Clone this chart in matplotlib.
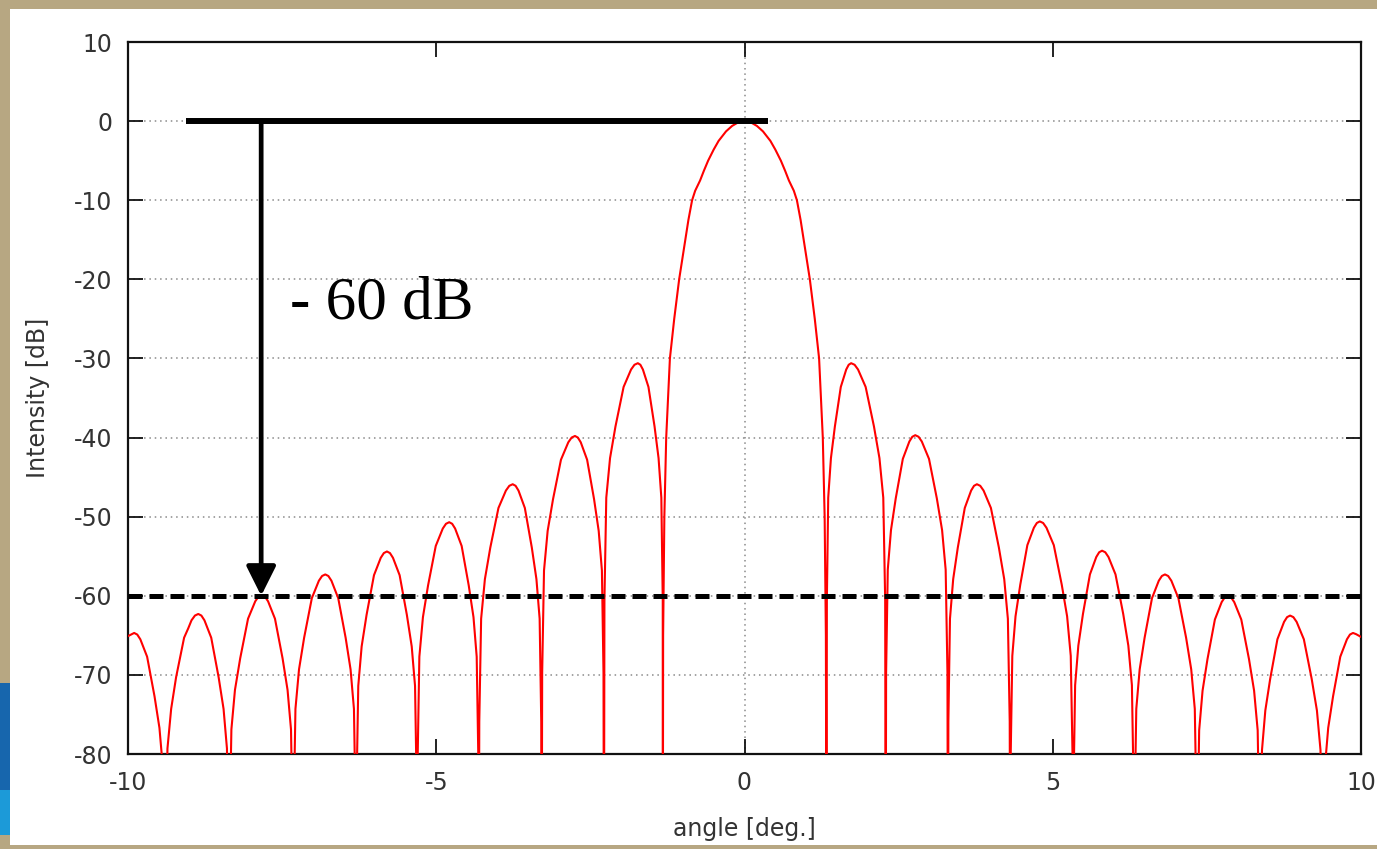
"""Antenna beam pattern with -60 dB sidelobe annotation."""

import matplotlib.pyplot as plt
from matplotlib.patches import Rectangle

plt.rcParams["axes.unicode_minus"] = False
plt.rcParams["font.family"] = ["DejaVu Sans"]

# Curve: angle [deg] and intensity [dB].
# Null points are put at -100 dB, below the visible range (clipped).
left_lobes_deg = [
    -10.0, -9.90, -9.85, -9.80, -9.75, -9.69, -9.57, -9.49, -9.435, -9.41, -9.40,
    -9.39, -9.36, -9.30, -9.22, -9.09, -9.022, -8.97, -8.914, -8.86, -8.81, -8.76, -8.71, -8.65, -8.53, -8.45, -8.395, -8.37, -8.36,
    -8.352, -8.323, -8.265, -8.18, -8.053, -7.989, -7.936, -7.883, -7.83, -7.779, -7.728, -7.677, -7.616, -7.493, -7.412, -7.356, -7.328, -7.32,
    -7.312, -7.284, -7.226, -7.143, -7.018, -6.956, -6.904, -6.852, -6.80, -6.75, -6.70, -6.65, -6.59, -6.47, -6.39, -6.335, -6.308, -6.30,
    -6.293, -6.265, -6.21, -6.13, -6.01, -5.95, -5.90, -5.85, -5.80, -5.751, -5.702, -5.653, -5.594, -5.477, -5.398, -5.344, -5.317, -5.31,
    -5.302, -5.274, -5.216, -5.133, -5.008, -4.946, -4.894, -4.842, -4.79, -4.742, -4.694, -4.646, -4.588, -4.473, -4.396, -4.344, -4.317, -4.31,
    -4.302, -4.272, -4.211, -4.123, -3.991, -3.925, -3.87, -3.815, -3.76, -3.713, -3.666, -3.619, -3.563, -3.45, -3.375, -3.323, -3.297, -3.29,
    -3.282, -3.252, -3.193, -3.106, -2.977, -2.912, -2.858, -2.804, -2.75, -2.703, -2.656, -2.609, -2.553, -2.44, -2.365, -2.313, -2.287, -2.28,
    -2.272, -2.242, -2.181, -2.093, -1.961, -1.895, -1.84, -1.785, -1.73, -1.689, -1.648, -1.607, -1.558, -1.459, -1.394, -1.349, -1.326, -1.325,
]
left_lobes_db = [
    -65.1, -64.7, -64.9, -65.5, -66.5, -67.7, -72.7, -76.7, -81.7, -94.7, -100,
    -92.3, -79.3, -74.3, -70.3, -65.3, -64.1, -63.1, -62.5, -62.3, -62.5, -63.1, -64.1, -65.3, -70.3, -74.3, -79.3, -92.3, -100,
    -89.9, -76.9, -71.9, -67.9, -62.9, -61.7, -60.7, -60.1, -59.9, -60.1, -60.7, -61.7, -62.9, -67.9, -71.9, -76.9, -89.9, -100,
    -87.3, -74.3, -69.3, -65.3, -60.3, -59.1, -58.1, -57.5, -57.3, -57.5, -58.1, -59.1, -60.3, -65.3, -69.3, -74.3, -87.3, -100,
    -84.4, -71.4, -66.4, -62.4, -57.4, -56.2, -55.2, -54.6, -54.4, -54.6, -55.2, -56.2, -57.4, -62.4, -66.4, -71.4, -84.4, -100,
    -80.7, -67.7, -62.7, -58.7, -53.7, -52.5, -51.5, -50.9, -50.7, -50.9, -51.5, -52.5, -53.7, -58.7, -62.7, -67.7, -80.7, -100,
    -75.9, -62.9, -57.9, -53.9, -48.9, -47.7, -46.7, -46.1, -45.9, -46.1, -46.7, -47.7, -48.9, -53.9, -57.9, -62.9, -75.9, -100,
    -69.8, -56.8, -51.8, -47.8, -42.8, -41.6, -40.6, -40.0, -39.8, -40.0, -40.6, -41.6, -42.8, -47.8, -51.8, -56.8, -69.8, -100,
    -60.6, -47.6, -42.6, -38.6, -33.6, -32.4, -31.4, -30.8, -30.6, -30.8, -31.4, -32.4, -33.6, -38.6, -42.6, -47.6, -60.6, -100,
]

main_lobe_deg = [
    -1.32, -1.30, -1.27, -1.21, -1.14, -1.06, -0.96, -0.91, -0.85, -0.80, -0.72, -0.66,
    -0.59, -0.50, -0.42, -0.30, -0.20, -0.10,
    0.0,
    0.10, 0.20, 0.30, 0.42, 0.50, 0.59,
    0.66, 0.72, 0.80, 0.85, 0.91, 0.96, 1.06, 1.14, 1.21, 1.27, 1.30, 1.32,
]
main_lobe_db = [
    -65, -50, -40, -30, -25, -20, -15, -12.5, -10, -8.8, -7.5, -6.3,
    -5, -3.6, -2.5, -1.3, -0.6, -0.15,
    0.0,
    -0.15, -0.6, -1.3, -2.5, -3.6, -5,
    -6.3, -7.5, -8.8, -10, -12.5, -15, -20, -25, -30, -40, -50, -65,
]

right_lobes_deg = [
    1.33,
    1.336, 1.358, 1.402, 1.466, 1.562, 1.61, 1.65, 1.69, 1.73, 1.786, 1.842, 1.898, 1.965, 2.10, 2.189, 2.251, 2.282, 2.29,
    2.297, 2.324, 2.376, 2.453, 2.568, 2.626, 2.674, 2.722, 2.77, 2.823, 2.876, 2.929, 2.993, 3.12, 3.205, 3.263, 3.292, 3.30,
    3.307, 3.333, 3.385, 3.46, 3.573, 3.629, 3.676, 3.723, 3.77, 3.824, 3.878, 3.932, 3.997, 4.126, 4.213, 4.272, 4.302, 4.31,
    4.317, 4.344, 4.396, 4.473, 4.588, 4.646, 4.694, 4.742, 4.79, 4.844, 4.898, 4.952, 5.017, 5.146, 5.233, 5.292, 5.322, 5.33,
    5.337, 5.363, 5.415, 5.49, 5.603, 5.659, 5.706, 5.753, 5.80, 5.852, 5.904, 5.956, 6.018, 6.143, 6.226, 6.284, 6.312, 6.32,
    6.328, 6.355, 6.41, 6.49, 6.61, 6.67, 6.72, 6.77, 6.82, 6.872, 6.924, 6.976, 7.038, 7.163, 7.246, 7.304, 7.332, 7.34,
    7.348, 7.375, 7.43, 7.51, 7.63, 7.69, 7.74, 7.79, 7.84, 7.892, 7.944, 7.996, 8.058, 8.183, 8.266, 8.324, 8.352, 8.36,
    8.367, 8.394, 8.448, 8.527, 8.644, 8.703, 8.752, 8.801, 8.85, 8.903, 8.956, 9.009, 9.073, 9.20, 9.285, 9.343, 9.372, 9.38,
    9.387, 9.414, 9.468, 9.547, 9.664, 9.723, 9.772, 9.821, 9.87, 9.92, 10.0,
]
right_lobes_db = [
    -100,
    -60.6, -47.6, -42.6, -38.6, -33.6, -32.4, -31.4, -30.8, -30.6, -30.8, -31.4, -32.4, -33.6, -38.6, -42.6, -47.6, -60.6, -100,
    -69.7, -56.7, -51.7, -47.7, -42.7, -41.5, -40.5, -39.9, -39.7, -39.9, -40.5, -41.5, -42.7, -47.7, -51.7, -56.7, -69.7, -100,
    -75.9, -62.9, -57.9, -53.9, -48.9, -47.7, -46.7, -46.1, -45.9, -46.1, -46.7, -47.7, -48.9, -53.9, -57.9, -62.9, -75.9, -100,
    -80.6, -67.6, -62.6, -58.6, -53.6, -52.4, -51.4, -50.8, -50.6, -50.8, -51.4, -52.4, -53.6, -58.6, -62.6, -67.6, -80.6, -100,
    -84.3, -71.3, -66.3, -62.3, -57.3, -56.1, -55.1, -54.5, -54.3, -54.5, -55.1, -56.1, -57.3, -62.3, -66.3, -71.3, -84.3, -100,
    -87.3, -74.3, -69.3, -65.3, -60.3, -59.1, -58.1, -57.5, -57.3, -57.5, -58.1, -59.1, -60.3, -65.3, -69.3, -74.3, -87.3, -100,
    -90.0, -77.0, -72.0, -68.0, -63.0, -61.8, -60.8, -60.2, -60.0, -60.2, -60.8, -61.8, -63.0, -68.0, -72.0, -77.0, -90.0, -100,
    -92.5, -79.5, -74.5, -70.5, -65.5, -64.3, -63.3, -62.7, -62.5, -62.7, -63.3, -64.3, -65.5, -70.5, -74.5, -79.5, -92.5, -100,
    -94.7, -81.7, -76.7, -72.7, -67.7, -66.5, -65.5, -64.9, -64.7, -64.85, -65.2,
]

# annotation
ref_db = 0
threshold_db = -60
ref_line_deg = [-9.06, 0.38]
arrow_deg = -7.84
annot_text = "- 60 dB"
annot_pos = (-7.37, -24.9)

x_ticks = [-10, -5, 0, 5, 10]
y_ticks = [10, 0, -10, -20, -30, -40, -50, -60, -70, -80]

angle = left_lobes_deg + main_lobe_deg + right_lobes_deg
intensity = left_lobes_db + main_lobe_db + right_lobes_db

fig = plt.figure(figsize=(13.77, 8.49), dpi=100)
fig.patch.set_facecolor("#b7a782")
W, H = 1377, 849
fig.patches.append(Rectangle((10 / W, 1 - 845 / H), 1 - 10 / W, 836 / H,
                             transform=fig.transFigure, facecolor="white",
                             edgecolor="none", zorder=-10))
# bit of the blue logo peeking out at the left edge
fig.patches.append(Rectangle((0, 1 - 790 / H), 10 / W, 107 / H,
                             transform=fig.transFigure, facecolor="#1766ad",
                             edgecolor="none", zorder=-10))
fig.patches.append(Rectangle((0, 1 - 835 / H), 10 / W, 45 / H,
                             transform=fig.transFigure, facecolor="#1c9ad8",
                             edgecolor="none", zorder=-10))

ax = fig.add_axes([128 / W, 1 - 754 / H, 1233 / W, 712 / H])
ax.set_facecolor("none")

ax.plot(angle, intensity, color="#ff0000", lw=1.5, zorder=3)

# grid: horizontal at every y tick, vertical only at zero
grid_style = dict(color="#8a8a8a", lw=1.1, ls=(0, (1, 2.5)), zorder=1)
for yv in y_ticks[1:-1]:
    ax.axhline(yv, **grid_style)
ax.axvline(0, **grid_style)

# annotation lines
ax.plot(ref_line_deg, [ref_db, ref_db], color="black", lw=4.3,
        solid_capstyle="butt", zorder=4)
ax.axhline(threshold_db, color="black", lw=3.6, ls=(0, (2.8, 1.4)), zorder=4)
ax.annotate("", xy=(arrow_deg, threshold_db), xytext=(arrow_deg, ref_db),
            arrowprops=dict(arrowstyle="-|>,head_length=0.9,head_width=0.45",
                            lw=3.4, color="black", shrinkA=0, shrinkB=0,
                            mutation_scale=20), zorder=5)
ax.text(annot_pos[0], annot_pos[1], annot_text, fontsize=44,
        family=["Liberation Serif", "DejaVu Serif"], color="black",
        ha="left", va="baseline", zorder=5)

ax.set_xlim(-10, 10)
ax.set_ylim(-80, 10)
ax.set_xticks(x_ticks)
ax.set_yticks(y_ticks)
ax.tick_params(direction="in", length=11, width=1.3, color="#111111",
               top=True, right=True, labelsize=17, labelcolor="#333333")
ax.tick_params(axis="x", pad=12)
ax.tick_params(axis="y", pad=11)
for sp in ax.spines.values():
    sp.set_linewidth(1.6)
    sp.set_color("#111111")

ax.set_xlabel("angle [deg.]", fontsize=17, color="#333333", va="center")
ax.xaxis.set_label_coords(0.5, -0.106)
ax.set_ylabel("Intensity [dB]", fontsize=17, color="#333333", va="center")
ax.yaxis.set_label_coords(-0.073, 0.5)

fig.savefig("out.png", dpi=100, facecolor=fig.get_facecolor())
